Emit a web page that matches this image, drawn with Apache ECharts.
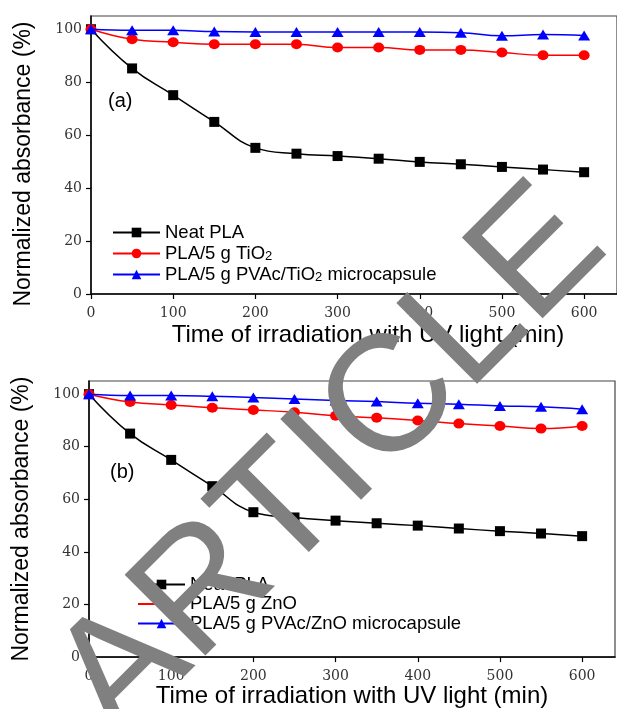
<!DOCTYPE html>
<html><head><meta charset="utf-8">
<script src="https://cdn.jsdelivr.net/npm/echarts@6/dist/echarts.min.js"></script>
<style>html,body{margin:0;padding:0;background:#fff}#c{width:617px;height:709px}</style>
</head><body><div id="c"></div>
<script>
// ---- data ----
const time = [0, 50, 100, 150, 200, 250, 300, 350, 400, 450, 500, 550, 600];
const xTicks = [0, 100, 200, 300, 400, 500, 600];
const yTicks = [0, 20, 40, 60, 80, 100];

// panel (a)
const neatPLA_a   = [100, 85.2, 75.1, 65, 55.2, 53, 52.1, 51.1, 49.9, 49, 48, 47, 46];
const tio2_a      = [100, 96.2, 95.1, 94.3, 94.3, 94.3, 93.1, 93.1, 92.2, 92.2, 91.2, 90.2, 90.2];
const pvacTio2_a  = [100, 99.6, 99.6, 99.1, 99, 99, 99, 99, 99, 98.7, 97.5, 98, 97.6];
// panel (b)
const neatPLA_b   = [100, 85, 75, 65, 55.1, 53.1, 51.9, 50.9, 50, 48.9, 47.9, 47, 46];
const zno_b       = [100, 97, 95.9, 94.8, 94, 93.1, 91.8, 91, 90, 88.8, 87.9, 86.9, 87.9];
const pvacZno_b   = [100, 99.5, 99.5, 99.2, 98.7, 98.2, 97.6, 97.2, 96.5, 96.2, 95.5, 95.2, 94.3];

const names_a = ['Neat PLA', 'PLA/5 g TiO2', 'PLA/5 g PVAc/TiO2 microcapsule'];
const names_b = ['Neat PLA', 'PLA/5 g ZnO', 'PLA/5 g PVAc/ZnO microcapsule'];
const panelLabels = ['(a)', '(b)'];
const xTitle = 'Time of irradiation with UV light (min)';
const yTitle = 'Normalized absorbance (%)';
const watermark = 'ARTICLE';

const colors = ['#000000', '#ff0000', '#0000ff'];
const symbols = ['rect', 'circle', 'triangle'];
const symSizes = [10, [11, 10], [12, 10]];

const tickFont = {fontFamily: 'DejaVu Serif', fontSize: 14, color: '#333'};
const sansFont = 'Liberation Sans';

function pairs(vals) { return time.map((t, i) => [t, vals[i]]); }

function xAxis(gi, gap, pad) {
  return {
    type: 'value', gridIndex: gi, min: 0, max: 640,
    axisLine: {show: true, onZero: false, lineStyle: {color: '#000', width: 1.5}},
    axisTick: {show: true, inside: false, length: 5, customValues: xTicks, lineStyle: {color: '#000', width: 1.2}},
    axisLabel: Object.assign({margin: 12, customValues: xTicks}, tickFont),
    splitLine: {show: false},
    name: xTitle, nameLocation: 'middle', nameGap: gap,
    nameTextStyle: {fontFamily: sansFont, fontSize: 24, color: '#000', padding: pad}
  };
}
function yAxis(gi, pad) {
  return {
    type: 'value', gridIndex: gi, min: 0, max: 105,
    axisLine: {show: true, onZero: false, lineStyle: {color: '#000', width: 1.5}},
    axisTick: {show: true, inside: false, length: 5, customValues: yTicks, lineStyle: {color: '#000', width: 1.2}},
    axisLabel: Object.assign({margin: 9, customValues: yTicks}, tickFont),
    splitLine: {show: false},
    name: yTitle, nameLocation: 'middle', nameGap: 56, nameRotate: 90,
    nameTextStyle: {fontFamily: sansFont, fontSize: 23, color: '#000', padding: pad}
  };
}

function mkSeries(name, vals, k, gi) {
  return {
    type: 'line', name: name, data: pairs(vals), xAxisIndex: gi, yAxisIndex: gi,
    smooth: 0.45, symbol: symbols[k], symbolSize: symSizes[k], showSymbol: true,
    lineStyle: {color: colors[k], width: 1.5}, itemStyle: {color: colors[k]},
    z: 2 + k, animation: false
  };
}

function legendFormatter(name) {
  return name.replace(/O2/, 'O{s|2}');
}
function legend(gi, names, left, top, gap) {
  return {
    show: true, orient: 'vertical', left: left, top: top, padding: 0,
    itemWidth: 47, itemHeight: 12, itemGap: gap, data: names,
    selectedMode: false,
    formatter: legendFormatter,
    textStyle: {fontFamily: sansFont, fontSize: 18.5, color: '#000', lineHeight: 18,
      rich: {s: {fontFamily: sansFont, fontSize: 13, color: '#000', verticalAlign: 'bottom', lineHeight: 12, padding: [6, 0, 0, 0]}}}
  };
}

const chart = echarts.init(document.getElementById('c'), null, {renderer: 'canvas'});
chart.setOption({
  backgroundColor: '#fff',
  animation: false,
  grid: [
    {left: 91, right: 0, top: 16, bottom: 415, show: true, borderColor: '#444', borderWidth: 1.2, containLabel: false},
    {left: 89, right: 2, top: 381, bottom: 50, show: true, borderColor: '#444', borderWidth: 1.2, containLabel: false}
  ],
  xAxis: [xAxis(0, 29, [0, 0, 0, 28]), xAxis(1, 26, [0, 0, 0, 0])],
  yAxis: [yAxis(0, [0, 18, 0, 0]), yAxis(1, [0, 0, 0, 0])],
  legend: [legend(0, names_a, 112, 223, 1.5), legend(1, names_b, 137, 575, 0.5)],
  series: [
    mkSeries(names_a[0], neatPLA_a, 0, 0),
    mkSeries(names_a[1], tio2_a, 1, 0),
    mkSeries(names_a[2], pvacTio2_a, 2, 0),
    mkSeries(names_b[0], neatPLA_b, 0, 1),
    mkSeries(names_b[1], zno_b, 1, 1),
    mkSeries(names_b[2], pvacZno_b, 2, 1)
  ],
  graphic: [
    {type: 'text', left: 108, top: 91, z: 10, style: {text: panelLabels[0], font: '20px "Liberation Sans"', fill: '#000'}},
    {type: 'text', left: 110, top: 462, z: 10, style: {text: panelLabels[1], font: '20px "Liberation Sans"', fill: '#000'}},
    {type: 'text', x: 332, y: 464, rotation: Math.PI / 4, z: 100,
     style: {text: watermark, font: '166px "Liberation Sans"', fill: '#808080', align: 'center', verticalAlign: 'middle'}}
  ]
});
</script>
</body></html>
